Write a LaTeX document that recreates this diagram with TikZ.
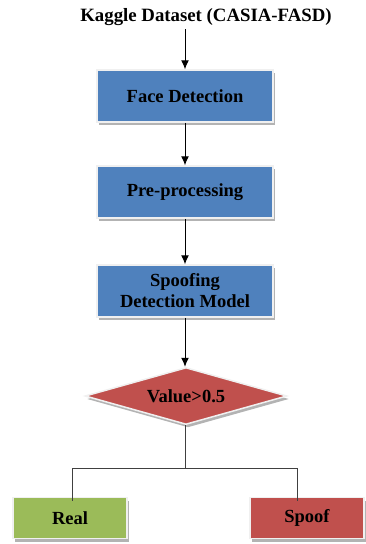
\documentclass[tikz,border=0pt]{standalone}
\usepackage{fontspec}
\setmainfont{Liberation Serif}
\usetikzlibrary{positioning,arrows.meta,shapes.geometric,shadows}
\tikzset{>={Latex[length=9pt,width=8pt]}}
\definecolor{stepblue}{HTML}{4F81BD}
\definecolor{stepred}{HTML}{C0504D}
\definecolor{stepgreen}{HTML}{9BBB59}
\tikzset{
  flowbox/.style={rectangle, draw=black!6, line width=1.5pt, minimum width=176pt,
    drop shadow={shadow xshift=2pt, shadow yshift=-3pt, fill=black!50, opacity=0.6}},
  bluebox/.style={flowbox, fill=stepblue, minimum height=52pt},
  endbox/.style={flowbox, minimum width=114pt, minimum height=41pt},
  decision/.style={diamond, aspect=3.5, minimum width=202pt, minimum height=57pt, inner sep=0pt,
    fill=stepred, draw=black!6, line width=1.5pt,
    drop shadow={shadow xshift=2pt, shadow yshift=-3pt, fill=black!50, opacity=0.6}},
  flowarrow/.style={->, line width=1pt}
}

\begin{document}
\begin{tikzpicture}[x=1pt,y=-1pt,every text node part/.style={align=center},
    font=\fontsize{18.5}{21}\selectfont\bfseries]
      \useasboundingbox (0,0) rectangle (366,544);

      \node (DataN)   at (206,17)  {\fontsize{18.8}{21}\selectfont Kaggle Dataset (CASIA-FASD)};
      \node[bluebox]  (FaceN)  at (185,96)  {Face Detection};
      \node[bluebox]  (PreN)   at (185,192) {Pre-processing};
      \node[bluebox]  (ModelN) at (185,291) {Spoofing\\Detection Model};
      \node[decision] (ValueN) at (186,396) {Value>0.5};

      \node[endbox, fill=stepgreen] (RealN)  at (70,518)  {Real};
      \node[endbox, fill=stepred]   (FakeN)  at (307,518) {Spoof};

      \coordinate (SplitC) at (185,468);

      \draw [flowarrow] (DataN.south -| FaceN.north) -- (FaceN.north);
      \draw [flowarrow] (FaceN.south)  -- (PreN.north);
      \draw [flowarrow] (PreN.south)   -- (ModelN.north);
      \draw [flowarrow] (ModelN.south) -- (ValueN.north -| ModelN.south);

      \draw [black!75] (ValueN.south -| SplitC) -- (SplitC);
      \draw [black!75] (SplitC) -| ([xshift=2pt,yshift=-4pt]RealN.north);
      \draw [black!75] (SplitC) -| ([xshift=-10pt,yshift=-4pt]FakeN.north);
    \end{tikzpicture}
\end{document}
